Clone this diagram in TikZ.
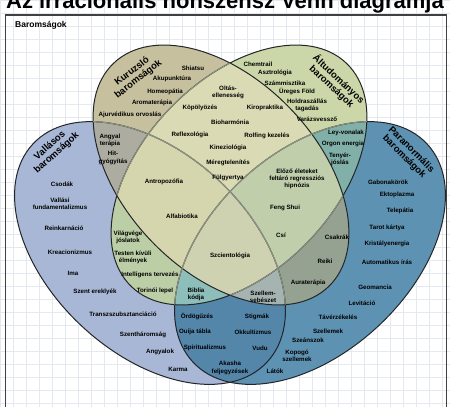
\documentclass[tikz,border=0pt]{standalone}
\usepackage{fontspec}
\setmainfont{Liberation Sans}
\definecolor{szinv}{RGB}{168,183,213}
\definecolor{szinp}{RGB}{94,146,178}
\definecolor{szink}{RGB}{198,192,158}
\definecolor{szina}{RGB}{203,215,168}
\definecolor{szinka}{RGB}{218,218,180}
\definecolor{szinkv}{RGB}{172,172,160}
\definecolor{szinkp}{RGB}{150,162,145}
\definecolor{szinav}{RGB}{188,206,166}
\definecolor{szinap}{RGB}{128,176,168}
\definecolor{szinvp}{RGB}{84,134,170}
\definecolor{szinkav}{RGB}{214,214,174}
\definecolor{szinkap}{RGB}{192,206,172}
\definecolor{szinkvp}{RGB}{165,180,176}
\definecolor{szinavp}{RGB}{142,190,186}
\definecolor{szinkavp}{RGB}{206,210,176}
\definecolor{linecol}{RGB}{35,38,40}
\definecolor{halvanycol}{RGB}{140,145,130}
\definecolor{gridcol}{RGB}{228,233,240}

\begin{document}
\begin{tikzpicture}[
x=1pt, y=-1pt,
vallpath/.style={insert path={(150,253) ellipse [x radius=160pt, y radius=100pt, rotate=-43]}},
parapath/.style={insert path={(310,253) ellipse [x radius=160pt, y radius=100pt, rotate=43]}},
altupath/.style={insert path={(239,175) ellipse [x radius=155pt, y radius=96pt, rotate=46]}},
kurupath/.style={insert path={(221,175) ellipse [x radius=155pt, y radius=96pt, rotate=-46]}},
vonal/.style={
  draw=linecol,
  line width=1pt
  },
halvany/.style={
  draw=halvanycol,
  line width=1pt
  },
elem/.style={
  font=\fontsize{6.2}{7.2}\selectfont\bfseries,
  align=center,
  inner sep=0pt
  },
cimke/.style={
  font=\fontsize{9.5}{10.5}\selectfont\bfseries,
  inner sep=0pt
  }
]
\useasboundingbox (0,0) rectangle (450,407);
\fill[white] (0,0) rectangle (450,407);
\draw[gridcol, line width=0.4pt, step=13pt] (0,407) grid (450,0);
\node[font=\fontsize{22}{24}\selectfont\bfseries, anchor=base] (cim) at (225,8) {Az irracionális nonszensz Venn diagramja};
\draw[black!75, line width=1.2pt] (5.5,420) -- (5.5,15) -- (446.5,15) -- (446.5,420);
\node[font=\fontsize{8.5}{9}\selectfont\bfseries, anchor=base west, inner sep=0pt] (barom) at (15,27) {Baromságok};

% one colour per region
\fill[szinv, vallpath];
\fill[szinp, parapath];
\fill[szina, altupath];
\fill[szink, kurupath];
\begin{scope} \clip[kurupath]; \fill[szinka, altupath]; \end{scope}
\begin{scope} \clip[kurupath]; \fill[szinkv, vallpath]; \end{scope}
\begin{scope} \clip[kurupath]; \fill[szinkp, parapath]; \end{scope}
\begin{scope} \clip[altupath]; \fill[szinav, vallpath]; \end{scope}
\begin{scope} \clip[altupath]; \fill[szinap, parapath]; \end{scope}
\begin{scope} \clip[vallpath]; \fill[szinvp, parapath]; \end{scope}
\begin{scope} \clip[kurupath]; \clip[altupath]; \fill[szinkav, vallpath]; \end{scope}
\begin{scope} \clip[kurupath]; \clip[altupath]; \fill[szinkap, parapath]; \end{scope}
\begin{scope} \clip[kurupath]; \clip[vallpath]; \fill[szinkvp, parapath]; \end{scope}
\begin{scope} \clip[altupath]; \clip[vallpath]; \fill[szinavp, parapath]; \end{scope}
\begin{scope} \clip[kurupath]; \clip[altupath]; \clip[vallpath]; \fill[szinkavp, parapath]; \end{scope}

\path[vonal, vallpath];
\path[vonal, parapath];
\path[vonal, altupath];
\path[vonal, kurupath];
\begin{scope} \clip[kurupath]; \path[halvany, vallpath]; \path[halvany, parapath]; \path[halvany, altupath]; \end{scope}
\begin{scope} \clip[altupath]; \path[halvany, vallpath]; \path[halvany, parapath]; \end{scope}

\node[cimke, rotate=38] (kuru1) at (131.6,70.7) {Kuruzsló};
\node[cimke, rotate=38] (kuru2) at (138.4,79.3) {baromságok};
\node[cimke, rotate=-43] (altu1) at (338.7,79) {Áltudományos};
\node[cimke, rotate=-43] (altu2) at (331.3,87) {baromságok};
\node[cimke, rotate=42] (vall1) at (49.3,144.9) {Vallásos};
\node[cimke, rotate=42] (vall2) at (56.7,153.1) {baromságok};
\node[cimke, rotate=-45] (para1) at (411.9,149.1) {Paranormális};
\node[cimke, rotate=-45] (para2) at (404.1,156.9) {baromságok};

\foreach \nm/\px/\py/\txt in {
  shiatsu/193/68/Shiatsu, akupunktura/172/79/Akupunktúra, homeopatia/165/92/Homeopátia,
  aromaterapia/152/103/Aromaterápia, ajurveda/130/115/Ajurvédikus orvoslás, kopolyozes/200/108/Köpölyözés,
  oltas/228/92/{Oltás-\\ellenesség}, kiropraktika/265/108/Kiropraktika, bioharmonia/230/122/Bioharmónia,
  rolfing/267/136/Rolfing kezelés, reflexologia/190/135/Reflexológia, kineziologia/228/148/Kineziológia,
  meregtelenites/228/163/Méregtelenítés, fulgyertya/228/178/Fülgyertya,
  angyal/110/140/{Angyal\\terápia}, hitgyogyitas/113/158/{Hit-\\gyógyítás},
  antropozofia/164/182/Antropozófia, alfabiotika/182/216/Alfabiotika}
  \node[elem] (\nm) at (\px,\py) {\txt};

\foreach \nm/\px/\py/\txt in {
  chemtrail/258/64/Chemtrail, asztrologia/275/73/Asztrológia, szammisztika/285/83/Számmisztika,
  ureges/297/92/Üreges Föld, holdraszallas/307/105/{Holdraszállás\\tagadás}, varazsvesszo/317/119/Varázsvessző,
  leyvonalak/346/133/Ley-vonalak, orgon/343/144/Orgon energia, tenyerjoslas/340/159/{Tenyér-\\jóslás},
  elozo/297/179/{Előző életeket\\feltáró regressziós\\hipnózis}, fengshui/285/208/Feng Shui, csi/281/235/Csí,
  csakrak/337/237/Csakrák, reiki/325/261/Reiki, auraterapia/308/283/Auraterápia,
  szcientologia/230/256/Szcientológia}
  \node[elem] (\nm) at (\px,\py) {\txt};

\foreach \nm/\px/\py/\txt in {
  vilagvege/128/237/{Világvége\\jóslatok}, testen/133/257/{Testen kívüli\\élmények},
  intelligens/150/275/Intelligens tervezés, torinoi/155/291/Torinói lepel, biblia/196/294/{Biblia\\kódja},
  szellemseb/263/297/{Szellem-\\sebészet}, ordoguzes/197/317/Ördögűzés, ouija/195/332/Ouija tábla,
  spiritualizmus/205/348/Spiritualizmus, akasha/230/368/{Akasha\\feljegyzések}, stigmak/257/317/Stigmák,
  okkultizmus/253/332/Okkultizmus, vudu/260/348/Vudu,
  csodak/62/184/Csodák, vallasi/60/204/{Vallási\\fundamentalizmus}, reinkarnacio/64/228/Reinkarnáció,
  kreacionizmus/70/252/Kreacionizmus, ima/73/273/Ima, ereklyek/95/292/Szent ereklyék,
  transz/123/314/Transzszubsztanciáció, szenthar/143/335/Szentháromság, angyalok/160/352/Angyalok,
  karma/178/369/Karma}
  \node[elem] (\nm) at (\px,\py) {\txt};

\foreach \nm/\px/\py/\txt in {
  gabona/388/182/Gabonakörök, ekto/397/195/Ektoplazma, telepatia/400/211/Telepátia,
  tarot/387/228/Tarot kártya, kristaly/387/244/Kristályenergia, automatikus/387/262/Automatikus írás,
  geomancia/375/287/Geomancia, levitacio/362/303/Levitáció, taverzekeles/338/317/Távérzékelés,
  szellemek/328/331/Szellemek, szeanszok/308/340/Szeánszok, kopogo/297/356/{Kopogó\\szellemek},
  latok/275/371/Látók}
  \node[elem] (\nm) at (\px,\py) {\txt};

\end{tikzpicture}
\end{document}
